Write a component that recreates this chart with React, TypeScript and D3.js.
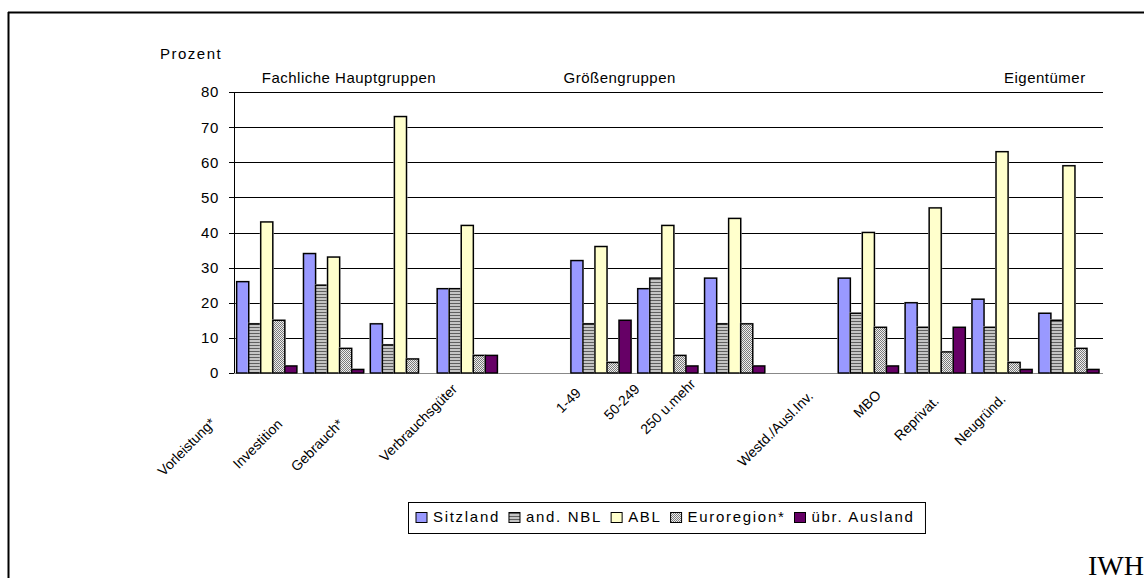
import React, { useEffect, useRef } from "react";
import * as d3 from "d3";

// ---- data ----
const categories = [
  "Vorleistung*",
  "Investition",
  "Gebrauch*",
  "Verbrauchsgüter",
  "1-49",
  "50-249",
  "250 u.mehr",
  "Westd./Ausl.Inv.",
  "MBO",
  "Reprivat.",
  "Neugründ.",
];
const categoryGroup = [0, 0, 0, 0, 1, 1, 1, 2, 2, 2, 2];
const groupTitles = ["Fachliche Hauptgruppen", "Größengruppen", "Eigentümer"];
const seriesNames = ["Sitzland", "and. NBL", "ABL", "Euroregion*", "übr. Ausland"];
const sitzland = [26, 34, 14, 24, 32, 24, 27, 27, 20, 21, 17];
const andNBL = [14, 25, 8, 24, 14, 27, 14, 17, 13, 13, 15];
const abl = [43, 33, 73, 42, 36, 42, 44, 40, 47, 63, 59];
const euroregion = [15, 7, 4, 5, 3, 5, 14, 13, 6, 3, 7];
const uebrAusland = [2, 1, 0, 5, 15, 2, 2, 2, 13, 1, 1];
const yTicks = [0, 10, 20, 30, 40, 50, 60, 70, 80];
const yLabel = "Prozent";
const footer = "IWH";

// ---- layout / style ----
const W = 1144;
const H = 578;
const M = { left: 234, right: 1103, top: 92, bottom: 373 };
const FONT = "'Liberation Sans', Arial, sans-serif";
const fills = ["#9999FF", "url(#patNBL)", "#FFFFCC", "url(#patEuro)", "#660066"];
const headerSlotPos = [1.72, 5.77, 12.13];
// rotated category label end-point offsets from the slot centre (layout only)
const labelNudge: [number, number][] = [
  [-51, 424],
  [-51, 425],
  [-57, 425],
  [-10, 390],
  [-20, 394],
  [-28, 390],
  [-39, 385],
  [-55, 397],
  [-54, 396],
  [-63, 402],
  [-63, 400],
];

export default function App() {
  const ref = useRef<SVGSVGElement | null>(null);

  useEffect(() => {
    const svg = d3.select(ref.current);
    svg.selectAll("*").remove();

    const defs = svg.append("defs");
    const p1 = defs
      .append("pattern")
      .attr("id", "patNBL")
      .attr("patternUnits", "userSpaceOnUse")
      .attr("width", 4)
      .attr("height", 3);
    p1.append("rect").attr("width", 4).attr("height", 3).attr("fill", "#c4c4c4");
    p1.append("rect").attr("width", 4).attr("height", 1).attr("fill", "#5e5e5e");
    const p2 = defs
      .append("pattern")
      .attr("id", "patEuro")
      .attr("patternUnits", "userSpaceOnUse")
      .attr("width", 2)
      .attr("height", 2);
    p2.append("rect").attr("width", 2).attr("height", 2).attr("fill", "#eeeeee");
    p2.append("rect").attr("width", 1).attr("height", 1).attr("fill", "#7a7a7a");
    p2.append("rect").attr("x", 1).attr("y", 1).attr("width", 1).attr("height", 1).attr("fill", "#7a7a7a");

    svg.append("rect").attr("width", W).attr("height", H).attr("fill", "#fff");

    // frame
    svg.append("line").attr("x1", 8).attr("x2", W).attr("y1", 12.5).attr("y2", 12.5).attr("stroke", "#000").attr("stroke-width", 2);
    svg.append("line").attr("x1", 8.5).attr("x2", 8.5).attr("y1", 12).attr("y2", H).attr("stroke", "#000").attr("stroke-width", 2);

    // slots including gaps between groups
    const slotKeys: string[] = [];
    categories.forEach((c, i) => {
      if (i > 0 && categoryGroup[i] !== categoryGroup[i - 1]) slotKeys.push("gap" + i);
      slotKeys.push(c);
    });
    const x = d3.scaleBand<string>().domain(slotKeys).range([M.left, M.right]).padding(0);
    const bw = x.bandwidth();
    const inner = d3
      .scaleBand<string>()
      .domain(seriesNames)
      .range([bw * 0.04, bw * 0.94])
      .padding(0);
    const y = d3.scaleLinear().domain([0, 80]).range([M.bottom, M.top]);

    // gridlines
    const g = svg.append("g");
    yTicks.forEach((t) => {
      g.append("line")
        .attr("x1", M.left)
        .attr("x2", M.right)
        .attr("y1", Math.round(y(t)) + 0.5)
        .attr("y2", Math.round(y(t)) + 0.5)
        .attr("stroke", t === 0 ? "#888" : "#000")
        .attr("stroke-width", 1);
      g.append("line")
        .attr("x1", M.left - 5)
        .attr("x2", M.left)
        .attr("y1", Math.round(y(t)) + 0.5)
        .attr("y2", Math.round(y(t)) + 0.5)
        .attr("stroke", "#000");
      g.append("text")
        .attr("x", M.left - 15)
        .attr("y", y(t))
        .attr("dy", "0.36em")
        .attr("text-anchor", "end")
        .attr("font-family", FONT)
        .attr("font-size", 15)
        .attr("letter-spacing", 0.6)
        .text(String(t));
    });
    g.append("line")
      .attr("x1", M.left + 0.5)
      .attr("x2", M.left + 0.5)
      .attr("y1", M.top)
      .attr("y2", M.bottom)
      .attr("stroke", "#000");

    // bars
    const seriesValues = [sitzland, andNBL, abl, euroregion, uebrAusland];
    const bars = svg.append("g");
    categories.forEach((c, ci) => {
      seriesNames.forEach((s, si) => {
        const v = seriesValues[si][ci];
        if (!v) return;
        const bx = (x(c) as number) + (inner(s) as number);
        const by = y(v);
        const bh = y(0) - y(v);
        bars
          .append("rect")
          .attr("x", bx - 0.5)
          .attr("y", by - 0.5)
          .attr("width", inner.bandwidth() + 1)
          .attr("height", bh + 0.5)
          .attr("fill", "none")
          .attr("stroke", "#c4c4c4")
          .attr("stroke-width", 1);
        bars
          .append("rect")
          .attr("x", bx)
          .attr("y", by)
          .attr("width", inner.bandwidth())
          .attr("height", bh)
          .attr("fill", fills[si])
          .attr("stroke", "#000")
          .attr("stroke-width", 1.4);
      });
    });

    // x labels
    categories.forEach((c, i) => {
      const cx = (x(c) as number) + bw / 2 + labelNudge[i][0];
      const cy = labelNudge[i][1];
      svg
        .append("text")
        .attr("transform", `translate(${cx},${cy}) rotate(-45)`)
        .attr("text-anchor", "end")
        .attr("font-family", FONT)
        .attr("font-size", 14)
        .text(c);
    });

    // axis title & group headers
    svg
      .append("text")
      .attr("x", 160)
      .attr("y", 59)
      .attr("font-family", FONT)
      .attr("font-size", 15)
      .attr("letter-spacing", 1.5)
      .text(yLabel);
    groupTitles.forEach((t, i) => {
      svg
        .append("text")
        .attr("x", M.left + headerSlotPos[i] * bw)
        .attr("y", 83)
        .attr("text-anchor", "middle")
        .attr("font-family", FONT)
        .attr("font-size", 15)
        .attr("letter-spacing", 0.5)
        .text(t);
    });

    // legend
    const lg = svg.append("g");
    const lbox = lg
      .append("rect")
      .attr("y", 502.5)
      .attr("height", 31)
      .attr("fill", "#fff")
      .attr("stroke", "#000")
      .attr("stroke-width", 1);
    let lx = 416;
    seriesNames.forEach((s, si) => {
      lg.append("rect")
        .attr("x", lx)
        .attr("y", 512.5)
        .attr("width", 11)
        .attr("height", 10)
        .attr("fill", fills[si])
        .attr("stroke", "#000")
        .attr("stroke-width", 1);
      const tx = lg
        .append("text")
        .attr("x", lx + 17)
        .attr("y", 522)
        .attr("font-family", FONT)
        .attr("font-size", 15)
        .attr("letter-spacing", 1.7)
        .text(s);
      const tw = (tx.node() as SVGTextElement).getComputedTextLength();
      lx = lx + 17 + tw + 9;
    });
    lbox.attr("x", 408.5).attr("width", lx + 2 - 408.5);

    // footer
    svg
      .append("text")
      .attr("x", 1088)
      .attr("y", 575)
      .attr("font-family", "'Liberation Serif', 'Times New Roman', serif")
      .attr("font-size", 28)
      .text(footer);
  }, []);

  return (
    <svg
      ref={ref}
      width={W}
      height={H}
      style={{ position: "absolute", left: 0, top: 0, display: "block" }}
    />
  );
}
